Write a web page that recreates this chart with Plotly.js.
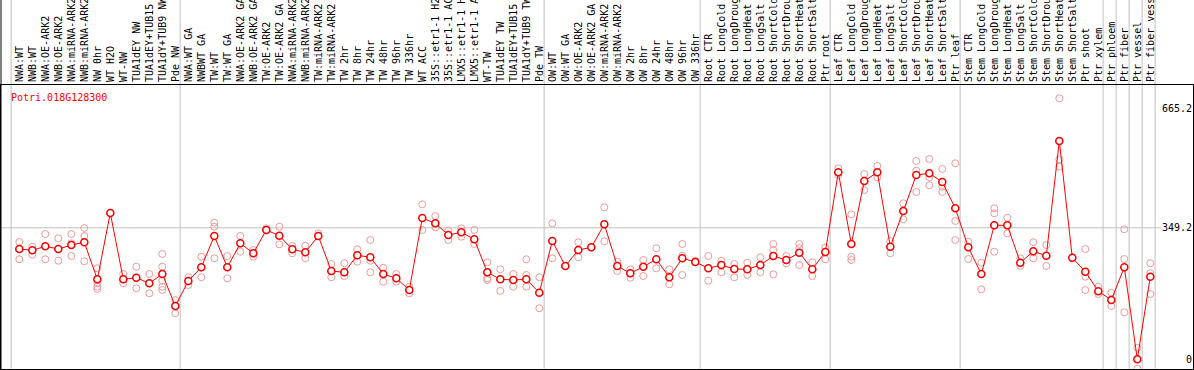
<!DOCTYPE html>
<html>
<head>
<meta charset="utf-8">
<script src="https://cdn.plot.ly/plotly-3.0.1.min.js"></script>
<style>html,body{margin:0;padding:0;background:#fff;}#chart{width:1194px;height:370px;}</style>
</head>
<body>
<div id="chart"></div>
<script>
// ---- data ----
const geneId = "Potri.018G128300";
const groupNW = ["NWA:WT","NWB:WT","NWA:OE-ARK2","NWB:OE-ARK2","NWA:miRNA-ARK2","NWB:miRNA-ARK2","NW 0hr","WT H2O","WT-NW","TUA1dEY NW","TUA1dEY+TUB15 NW","TUA1dY+TUB9 NW","Pde NW"];
const groupTW = ["NWA:WT GA","NWBWT GA","TW:WT","TW:WT GA","NWA:OE-ARK2 GA","NWB:OE-ARK2 GA","TW:OE-ARK2","TW:OE-ARK2 GA","NWA:miRNA-ARK2 GA","NWB:miRNA-ARK2 GA","TW:miRNA-ARK2","TW:miRNA-ARK2 GA","TW 2hr","TW 8hr","TW 24hr","TW 48hr","TW 96hr","TW 336hr","WT ACC","35S::etr1-1 H2O","35S::etr1-1 ACC","LMX5::etr1-1 H2O","LMX5::etr1-1 ACC","WT-TW","TUA1dEY TW","TUA1dEY+TUB15 TW","TUA1dY+TUB9 TW","Pde TW"];
const groupOW = ["OW:WT","OW:WT GA","OW:OE-ARK2","OW:OE-ARK2 GA","OW:miRNA-ARK2","OW:miRNA-ARK2 GA","OW 2hr","OW 8hr","OW 24hr","OW 48hr","OW 96hr","OW 336hr"];
const groupRoot = ["Root CTR","Root LongCold","Root LongDrought","Root LongHeat","Root LongSalt","Root ShortCold","Root ShortDrought","Root ShortHeat","Root ShortSalt","Ptr root"];
const groupLeaf = ["Leaf CTR","Leaf LongCold","Leaf LongDrought","Leaf LongHeat","Leaf LongSalt","Leaf ShortCold","Leaf ShortDrought","Leaf ShortHeat","Leaf ShortSalt","Ptr leaf"];
const groupStem = ["Stem CTR","Stem LongCold","Stem LongDrought","Stem LongHeat","Stem LongSalt","Stem ShortCold","Stem ShortDrought","Stem ShortHeat","Stem ShortSalt","Ptr shoot","Ptr xylem"];
const groupPhloem = ["Ptr phloem"];
const groupFiber = ["Ptr fiber"];
const groupVessel = ["Ptr vessel"];
const groupFiberVessel = ["Ptr fiber vessel"];

const meanValues = [
 292.9,289.4,300.1,292.9,303.5,310.7,212.4,388.5,212.4,216.7,201.8,226.5,141.5,
 207.9,244.3,327.4,244.3,308.0,281.5,343.4,328.2,292.1,284.1,327.4,234.5,231.0,276.2,270.9,226.5,215.1,184.0,375.2,361.1,330.1,337.2,318.7,231.0,212.4,210.6,212.4,176.9,
 314.1,247.8,290.2,297.4,358.5,247.8,228.4,245.9,265.6,217.8,268.2,258.4,
 241.7,250.4,239.8,239.0,250.4,274.3,263.7,283.1,239.0,284.9,
 496.6,306.2,473.5,496.6,299.0,393.8,489.4,493.9,470.8,401.0,
 297.4,226.5,355.8,355.8,256.5,286.8,275.1,579.7,269.8,232.6,180.6,
 157.5,244.3,0,219.3
];

const replicateValues = [
 [311.5,265.6],[299.0,277.8],[332.7,265.6],[321.3,261.8],[332.7,308.0,274.3],[348.7,327.4,260.2],[241.7,201.8,192.8,186.7],[388.5],[226.5,201.8],[245.9,188.5],[226.5,175.3],[279.6,245.9,208.7,192.8,184.0],[157.5,122.2],
 [217.8,197.3],[272.5,217.8],[362.7,352.1,268.2],[274.3,215.1],[327.4,285.7],[290.2,272.5],[347.9],[352.1,305.4],[300.9,281.5],[301.7,268.2],[334.6],[253.1,217.8],[254.9,221.2],[292.1,259.2],[316.8,261.8,231.0],[243.2,206.1],[226.5,206.1],[192.8,175.3],[411.6,343.4],[380.5,350.5],[341.5,316.8],[347.9,325.6],[343.4,306.2],[257.6,215.1,210.6],[239.0,181.4],[226.5,192.8],[265.6,223.9,192.8],[217.8,135.4],
 [361.1,268.2],[247.8],[310.7,270.9],[297.4],[403.6,313.3],[259.2,234.5],[239.0,216.7],[263.7,221.2],[294.8,241.7],[239.0,199.2],[306.2,275.1,223.9],[261.8],
 [274.3,208.7],[261.8,231.0],[253.1,217.8],[256.5,223.9],[270.9,231.0],[306.2,290.2,225.7],[274.3,254.9],[306.2,294.8,250.4],[257.6,221.2],[296.4,265.6],
 [507.2,489.4],[385.0,272.5,263.7],[492.1,449.6],[513.3,483.3],[314.1,281.5],[414.3,371.8],[526.6,500.8,444.3],[531.9,483.3,462.1],[505.3,458.3,444.3],[520.5,367.3,316.8],
 [312.3,266.3],[256.5,185.9],[401.0,387.7,285.7],[376.0,334.6],[268.2,247.8],[310.7,268.2],[303.5,247.8],[693.1,531.1,511.5],[269.8],[292.9,219.3,184.0],[192.8,173.4],
 [176.9,141.5],[345.2,266.3,124.8],[30.8,-25.0],[254.9,228.4,173.4]
];

const yTickValues = [0, 349.2, 665.2];
const yTickLabels = ["0", "349.2", "665.2"];
const referenceLine = 349.2;

// ---- build ----
const groups = [groupNW, groupTW, groupOW, groupRoot, groupLeaf, groupStem, groupPhloem, groupFiber, groupVessel, groupFiberVessel];
const categories = [].concat(...groups);
const xIdx = categories.map((_, i) => i);

const repX = [], repY = [];
replicateValues.forEach((arr, i) => arr.forEach(v => { repX.push(i); repY.push(v); }));

const FONT = "DejaVu Sans Mono, Liberation Mono, monospace";
const GRID = "#c0c0c0";

const shapes = [];
let start = 0;
const bounds = [0];
groups.forEach(g => { start += g.length; bounds.push(start); });
bounds.forEach(b => {
  shapes.push({type: "line", xref: "x", yref: "paper", x0: b - 0.63, x1: b - 0.63, y0: 0, y1: 1.31,
               line: {color: GRID, width: 1}, layer: "below"});
});
shapes.push({type: "line", xref: "paper", yref: "y", x0: 0, x1: 0.9732, y0: referenceLine, y1: referenceLine,
             line: {color: GRID, width: 1}, layer: "below"});
// left border extending across the label area
shapes.push({type: "line", xref: "paper", yref: "paper", x0: 0, x1: 0, y0: 0, y1: 1.31,
             line: {color: "#000", width: 1}});

const traces = [
  {x: repX, y: repY, type: "scatter", mode: "markers", hoverinfo: "skip", cliponaxis: true,
   marker: {symbol: "circle-open", size: 7, color: "#ee9a9a", line: {width: 1, color: "#ee9a9a"}}},
  {x: xIdx, y: meanValues, type: "scatter", mode: "lines+markers", cliponaxis: true,
   line: {color: "#ff0000", width: 1},
   marker: {symbol: "circle", size: 7, color: "#ffffff", line: {width: 1.6, color: "#ff0000"}}}
];

const layout = {
  width: 1194, height: 370,
  margin: {l: 1, r: 1, t: 85, b: 1, pad: 0},
  paper_bgcolor: "#ffffff", plot_bgcolor: "#ffffff",
  showlegend: false,
  font: {family: FONT, size: 10, color: "#000"},
  xaxis: {
    type: "linear", range: [-1.4077, 90.2846], side: "top",
    tickmode: "array", tickvals: xIdx, ticktext: categories, tickangle: -90,
    tickfont: {family: FONT, size: 10, color: "#000"},
    ticks: "", ticklabelstandoff: 0,
    showgrid: false, zeroline: false, automargin: false,
    showline: true, mirror: true, linecolor: "#000", linewidth: 1
  },
  yaxis: {
    range: [-25.76, 728.4], side: "right",
    tickmode: "array", tickvals: yTickValues, ticktext: yTickLabels,
    ticklabelposition: "inside", ticks: "",
    tickfont: {family: FONT, size: 10, color: "#000"},
    showgrid: false, zeroline: false, automargin: false,
    showline: true, mirror: true, linecolor: "#000", linewidth: 1
  },
  shapes: shapes,
  annotations: [{
    text: geneId, xref: "paper", yref: "paper", x: 0.0067, y: 0.9577,
    xanchor: "left", yanchor: "middle", showarrow: false,
    font: {family: FONT, size: 10, color: "#ff0000"}
  }]
};

Plotly.newPlot("chart", traces, layout, {staticPlot: true, displayModeBar: false});
</script>
</body>
</html>
